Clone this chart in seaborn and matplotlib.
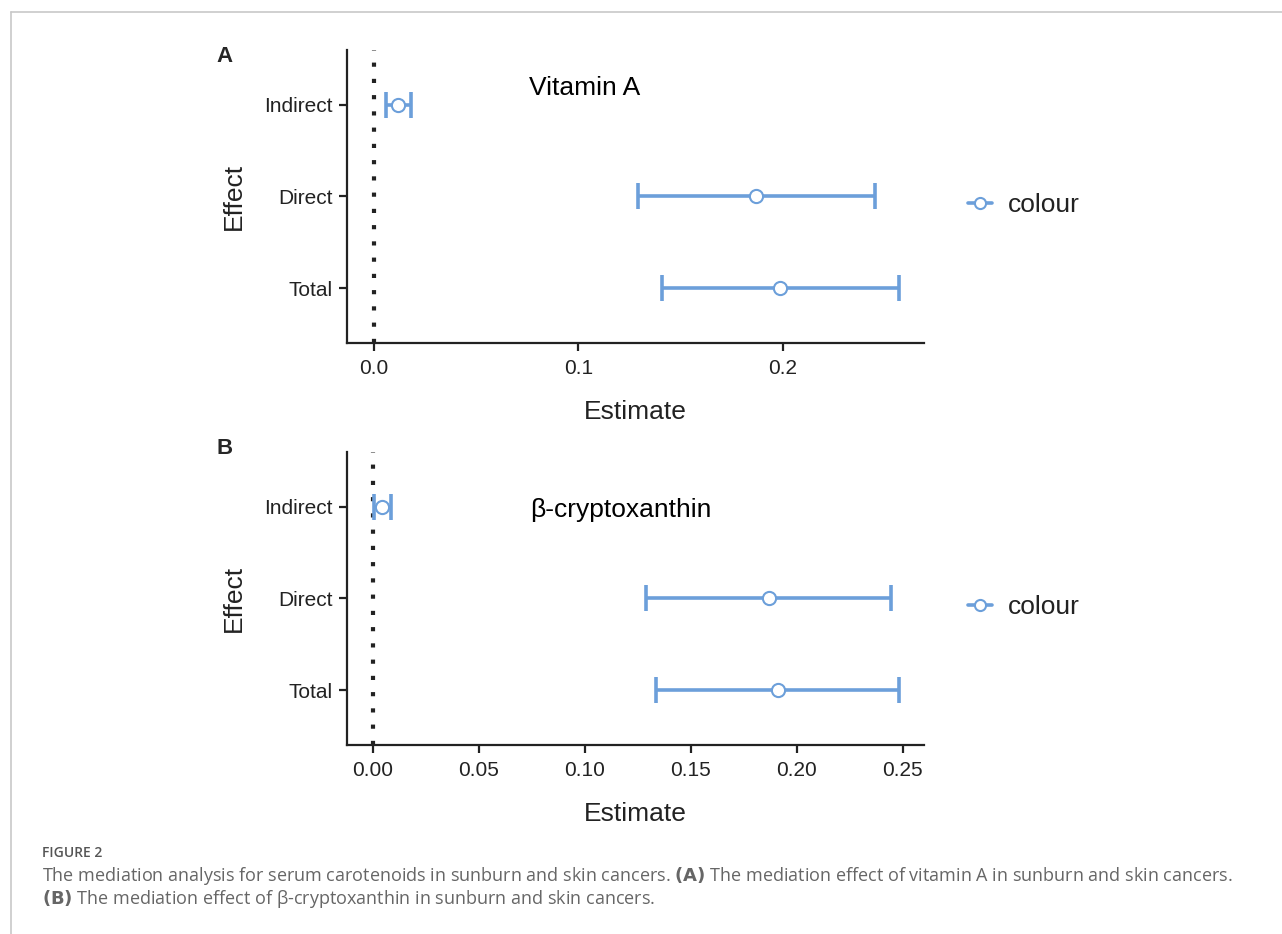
import pandas as pd
import seaborn as sns
import matplotlib.pyplot as plt
from matplotlib.lines import Line2D

# effects, top to bottom
effects = ["Indirect", "Direct", "Total"]

# panel A: vitamin A
est_a = [0.0117, 0.187, 0.1985]
low_a = [0.0059, 0.129, 0.141]
high_a = [0.0185, 0.245, 0.2566]

# panel B: beta-cryptoxanthin
est_b = [0.0042, 0.1868, 0.191]
low_b = [0.0002, 0.129, 0.1335]
high_b = [0.0085, 0.2443, 0.248]

blue = "#6c9fda"
ink = "#222222"

sns.set_theme(style="ticks")
plt.rcParams["font.family"] = ["Liberation Sans", "DejaVu Sans"]

fig = plt.figure(figsize=(12.82, 9.34), dpi=100)
ax_a = fig.add_axes([0.2707, 0.6328, 0.45, 0.3137])
ax_b = fig.add_axes([0.2707, 0.2024, 0.45, 0.3137])


def draw_panel(ax, est, low, high, title, title_x, title_y, xlim, xticks, xticklabels):
    df = pd.DataFrame({"effect": effects, "est": est, "low": low, "high": high})
    df["pos"] = [2, 1, 0]
    ax.axvline(0, color=ink, ls=(0, (1, 2.9)), lw=3.0, zorder=1)
    ax.errorbar(df["est"], df["pos"],
                xerr=[df["est"] - df["low"], df["high"] - df["est"]],
                fmt="none", ecolor=blue, elinewidth=2.6, capsize=9.5,
                capthick=2.6, zorder=2)
    sns.scatterplot(data=df, x="est", y="pos", ax=ax, s=90, color="white",
                    edgecolor=blue, linewidth=1.5, zorder=3, legend=False)
    ax.set_ylim(-0.6, 2.6)
    ax.set_xlim(*xlim)
    ax.set_yticks(df["pos"])
    ax.set_yticklabels(df["effect"])
    ax.set_xticks(xticks)
    ax.set_xticklabels(xticklabels)
    sns.despine(ax=ax)
    for s in ["left", "bottom"]:
        ax.spines[s].set_color(ink)
        ax.spines[s].set_linewidth(1.6)
    ax.tick_params(axis="both", colors=ink, labelsize=15, length=5.5, width=1.6)
    ax.tick_params(axis="y", pad=5)
    ax.tick_params(axis="x", pad=6)
    ax.set_xlabel("Estimate", fontsize=19, color=ink, labelpad=16)
    ax.set_ylabel("Effect", fontsize=19, color=ink, labelpad=13)
    ax.text(title_x, title_y, title, fontsize=19, color="black", ha="center", va="center")
    handle = Line2D([], [], color=blue, lw=2.6, marker="o", markersize=8,
                    markerfacecolor="white", markeredgecolor=blue, markeredgewidth=1.5)
    ax.legend([handle], ["colour"], loc="center left", bbox_to_anchor=(1.035, 0.47),
              frameon=False, fontsize=19, handlelength=0.9, handletextpad=0.6,
              labelcolor=ink)


draw_panel(ax_a, est_a, low_a, high_a, "Vitamin A", 0.103, 2.19,
           (-0.013, 0.269), [0.0, 0.1, 0.2], ["0.0", "0.1", "0.2"])
draw_panel(ax_b, est_b, low_b, high_b, "β-cryptoxanthin", 0.117, 1.97,
           (-0.0123, 0.26), [0.0, 0.05, 0.10, 0.15, 0.20, 0.25],
           ["0.00", "0.05", "0.10", "0.15", "0.20", "0.25"])

fig.text(225 / 1282, 1 - 57 / 934, "A", fontsize=16, fontweight="bold", ha="center", va="center")
fig.text(225 / 1282, 1 - 448 / 934, "B", fontsize=16, fontweight="bold", ha="center", va="center")

# caption
cap_font = ["Open Sans", "DejaVu Sans"]
fig.text(42 / 1282, 1 - 853 / 934, "FIGURE 2", fontsize=10, color="#555555",
         fontweight="semibold", family=cap_font, va="center")
fig.text(42 / 1282, 1 - 876 / 934,
         "The mediation analysis for serum carotenoids in sunburn and skin cancers. "
         r"$\bf{(A)}$ The mediation effect of vitamin A in sunburn and skin cancers.",
         fontsize=13, color="#666666", family=cap_font, va="center")
fig.text(42 / 1282, 1 - 899 / 934,
         r"$\bf{(B)}$ The mediation effect of β-cryptoxanthin in sunburn and skin cancers.",
         fontsize=13, color="#666666", family=cap_font, va="center")

# light frame lines (top and left) of the figure panel
fig.add_artist(Line2D([11 / 1282, 1], [1 - 12 / 934, 1 - 12 / 934],
                      transform=fig.transFigure, color="#c8c8c8", lw=1.2))
fig.add_artist(Line2D([11 / 1282, 11 / 1282], [0, 1 - 12 / 934],
                      transform=fig.transFigure, color="#c8c8c8", lw=1.2))

fig.savefig("out.png", dpi=100)
